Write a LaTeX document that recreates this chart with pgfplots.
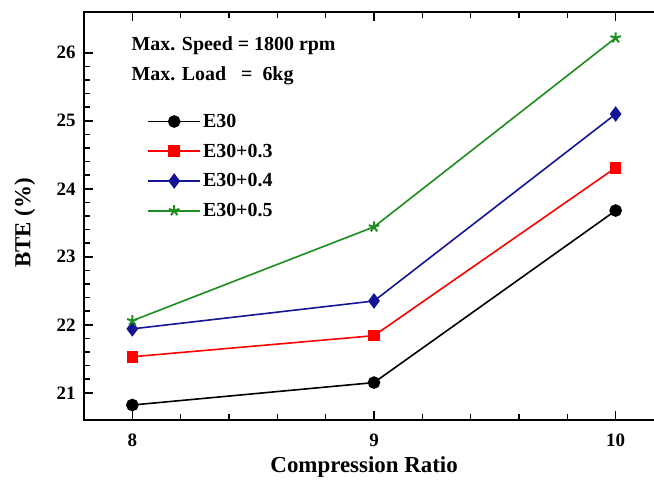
\documentclass[border=0pt]{standalone}
\usepackage{fontspec}
\setmainfont{Liberation Serif}
\usepackage{pgfplots}
\pgfplotsset{compat=1.18}
\definecolor{cblue}{RGB}{20,20,150}
\definecolor{cgreen}{RGB}{30,140,30}
\begin{document}
\begin{tikzpicture}
\begin{axis}[
  scale only axis, width=580bp, height=408bp,
  xmin=7.8, xmax=10.2, ymin=20.6, ymax=26.6,
  xtick={8,9,10}, ytick={21,22,23,24,25,26},
  minor x tick num=4, minor y tick num=4,
  tick align=inside,
  major tick length=9bp, minor tick length=6bp,
  tick style={line width=1.5bp, black},
  axis line style={line width=1.6bp},
  /pgf/number format/assume math mode=true,
  tick label style={font=\fontsize{19}{22}\selectfont\bfseries},
  xticklabel style={yshift=-10bp},
  yticklabel style={xshift=-5bp},
  xlabel={Compression Ratio}, ylabel={BTE (\%)},
  every axis x label/.style={at={(axis description cs:0.483,-0.115)},anchor=center,
    font=\fontsize{23}{26}\selectfont\bfseries},
  every axis y label/.style={at={(axis description cs:-0.102,0.483)},rotate=90,anchor=center,
    font=\fontsize{23}{26}\selectfont\bfseries},
  legend style={at={(axis description cs:0.109,0.755)}, anchor=north west,
    draw=none, fill=none, inner sep=0pt, row sep=11bp,
    font=\fontsize{20}{22}\selectfont\bfseries,
    /tikz/every even column/.append style={column sep=3bp}},
  legend cell align=left,
  legend image code/.code={\draw[line width=1.6bp, mark repeat=2,mark phase=2] plot coordinates {(0bp,0bp) (26bp,0bp) (52bp,0bp)};},
  every axis plot/.append style={line width=1.6bp},
  clip=false,
]
\addplot[black, mark=*, mark size=5.5bp] coordinates {(8,20.82) (9,21.15) (10,23.68)};
\addlegendentry{E30}
\addplot[red, mark=square*, mark size=5bp] coordinates {(8,21.53) (9,21.84) (10,24.31)};
\addlegendentry{E30+0.3}
\addplot[cblue, mark=diamond*, mark size=6.5bp] coordinates {(8,21.94) (9,22.35) (10,25.10)};
\addlegendentry{E30+0.4}
\addplot[cgreen, mark=star, mark size=5.5bp, mark options={line width=2bp}] coordinates {(8,22.06) (9,23.44) (10,26.22)};
\addlegendentry{E30+0.5}
\node[anchor=west, font=\fontsize{20}{22}\selectfont\bfseries] at (axis description cs:0.076,0.917) {Max. Speed = 1800 rpm};
\node[anchor=west, font=\fontsize{20}{22}\selectfont\bfseries] at (axis description cs:0.076,0.843) {Max. Load\ \ \ =\ \ 6kg};
\end{axis}
\pgfresetboundingbox
\path[use as bounding box] ([shift={(-84bp,-61bp)}]current axis.south west) rectangle ([shift={(570bp,12bp)}]current axis.north west);
\end{tikzpicture}
\end{document}
